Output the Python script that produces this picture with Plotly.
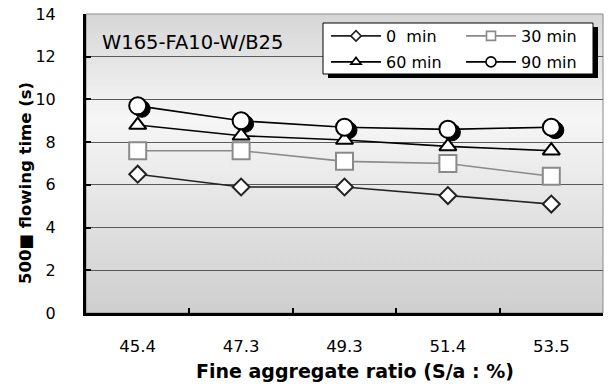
import base64
import plotly.graph_objects as go

categories = ["45.4", "47.3", "49.3", "51.4", "53.5"]
y_ticks = [0, 2, 4, 6, 8, 10, 12, 14]
series_names = ["0  min", "30 min", "60 min", "90 min"]
t0 = [6.5, 5.9, 5.9, 5.5, 5.1]
t30 = [7.6, 7.6, 7.1, 7.0, 6.4]
t60 = [8.8, 8.3, 8.1, 7.8, 7.6]
t90 = [9.7, 9.0, 8.7, 8.6, 8.7]

FONT = "DejaVu Sans, Arial, sans-serif"
W, H = 612, 390
ML, MR, MT, MB = 86, 9, 14, 77
PW, PH = W - ML - MR, H - MT - MB


def px(x):
    return (x - ML) / PW


def py(y):
    return (H - MB - y) / PH


# shadow offset in pixels -> axis units
sdx = 4 / (PW / 5)
sdy = 3 * 14 / PH

svg = ('<svg xmlns="http://www.w3.org/2000/svg" width="100" height="100" preserveAspectRatio="none">'
       '<defs><linearGradient id="g" x1="0" y1="0" x2="0" y2="1">'
       '<stop offset="0" stop-color="#d6d6d6"/><stop offset="0.35" stop-color="#f6f6f6"/>'
       '<stop offset="1" stop-color="#cecece"/></linearGradient></defs>'
       '<rect width="100" height="100" fill="url(#g)"/></svg>')
bg_uri = "data:image/svg+xml;base64," + base64.b64encode(svg.encode()).decode()

fig = go.Figure()

# circle shadows (main axes, shifted range)
fig.add_trace(go.Scatter(x=categories, y=t90, mode="markers", showlegend=False,
                         marker=dict(symbol="circle", size=17, color="black",
                                     line=dict(color="black", width=1)),
                         xaxis="x", yaxis="y", hoverinfo="skip"))

styles = [
    dict(symbol="diamond", size=13, lc="#222222", mc="#222222"),
    dict(symbol="square", size=17, lc="#8a8a8a", mc="#8a8a8a"),
    dict(symbol="triangle-up", size=15, lc="#000000", mc="#000000"),
    dict(symbol="circle", size=17, lc="#000000", mc="#000000"),
]
legend_sizes = [8, 9, 9, 10]
legend_ids = ["legend", "legend", "legend2", "legend2"]
data = [t0, t30, t60, t90]

for name, vals, st in zip(series_names, data, styles):
    fig.add_trace(go.Scatter(x=categories, y=vals, mode="lines+markers", name=name,
                             showlegend=False,
                             line=dict(color=st["lc"], width=1.6),
                             marker=dict(symbol=st["symbol"], size=st["size"], color="white",
                                         line=dict(color=st["mc"], width=2)),
                             xaxis="x2", yaxis="y2"))

for name, st, ls, lid in zip(series_names, styles, legend_sizes, legend_ids):
    fig.add_trace(go.Scatter(x=[None], y=[None], mode="lines+markers", name=name, legend=lid,
                             line=dict(color=st["lc"], width=1.6),
                             marker=dict(symbol=st["symbol"], size=ls, color="white",
                                         line=dict(color=st["mc"], width=1.6)),
                             xaxis="x2", yaxis="y2"))

leg_common = dict(xanchor="left", yanchor="middle", orientation="h",
                  bgcolor="rgba(0,0,0,0)", borderwidth=0,
                  entrywidth=70, itemwidth=50, font=dict(size=16), tracegroupgap=0)

fig.update_layout(
    width=W, height=H,
    margin=dict(l=ML, r=MR, t=MT, b=MB, autoexpand=False),
    paper_bgcolor="white",
    plot_bgcolor="rgba(0,0,0,0)",
    font=dict(family=FONT, size=16, color="black"),
    images=[dict(source=bg_uri, xref="paper", yref="paper", x=0, y=1, sizex=1, sizey=1,
                 sizing="stretch", layer="below", xanchor="left", yanchor="top")],
    xaxis=dict(type="category", categoryorder="array", categoryarray=categories,
               range=[-0.5 - sdx, 4.5 - sdx], visible=False, automargin=False),
    yaxis=dict(range=[sdy, 14 + sdy], visible=False, automargin=False),
    xaxis2=dict(type="category", categoryorder="array", categoryarray=categories,
                range=[-0.5, 4.5], overlaying="x", anchor="y2", automargin=False,
                showline=True, linecolor="black", linewidth=3,
                ticks="inside", ticklen=5, tickwidth=2, tickcolor="black",
                tickson="boundaries", showgrid=False, ticklabelstandoff=16,
                tickfont=dict(size=16.5)),
    yaxis2=dict(range=[0, 14], overlaying="y", anchor="x2", tickvals=y_ticks, automargin=False,
                showline=True, linecolor="black", linewidth=3,
                ticks="inside", ticklen=5, tickwidth=2, tickcolor="black",
                showgrid=True, gridcolor="#5a5a5a", gridwidth=1, zeroline=False,
                ticklabelstandoff=24, tickfont=dict(size=16)),
    legend=dict(x=px(326), y=py(36), **leg_common),
    legend2=dict(x=px(326), y=py(62), **leg_common),
    shapes=[
        dict(type="rect", xref="paper", yref="paper", x0=0, x1=1, y0=0, y1=1,
             line=dict(color="#8a8a8a", width=1), layer="below"),
        dict(type="rect", xref="paper", yref="paper", x0=px(328), x1=px(598), y0=py(78), y1=py(27),
             fillcolor="black", line=dict(width=0), layer="above"),
        dict(type="rect", xref="paper", yref="paper", x0=px(323), x1=px(593), y0=py(74), y1=py(23),
             fillcolor="white", line=dict(color="black", width=1), layer="above"),
    ],
    annotations=[
        dict(text="W165-FA10-W/B25", xref="paper", yref="paper", x=px(100), y=py(42),
             xanchor="left", yanchor="middle", showarrow=False, font=dict(size=19.5)),
        dict(text="<b>Fine aggregate ratio (S/a : %)</b>", xref="paper", yref="paper",
             x=px(355), y=py(371), xanchor="center", yanchor="middle", showarrow=False,
             font=dict(size=19)),
        dict(text="<b>500■ flowing time (s)</b>", xref="paper", yref="paper",
             x=px(25), y=py(183), xanchor="center", yanchor="middle", showarrow=False,
             textangle=-90, font=dict(size=16.5)),
    ],
)

fig.write_html("out.html", config={"displayModeBar": False},
               post_script="document.body.style.margin='0';")
